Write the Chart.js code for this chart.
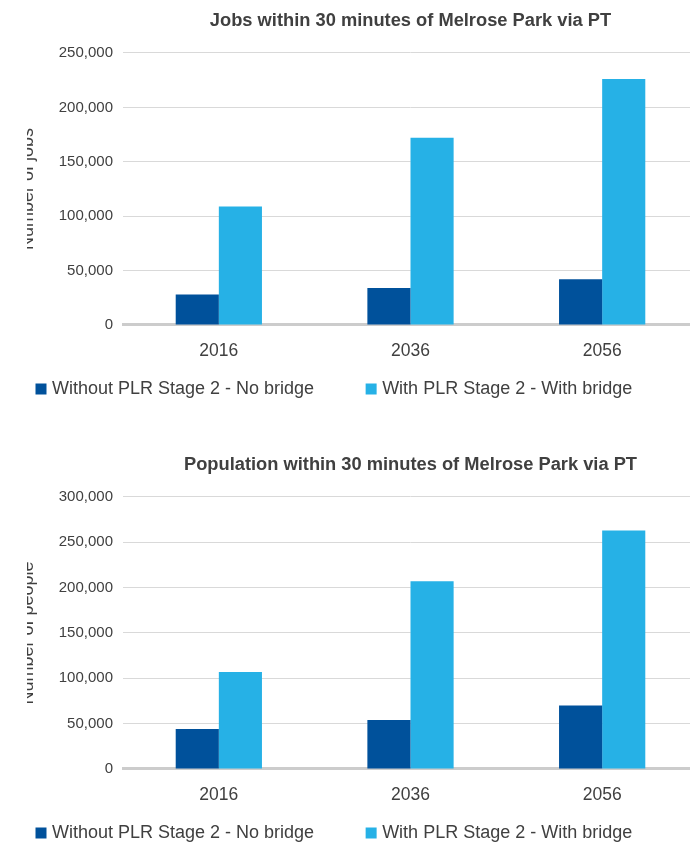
<!DOCTYPE html>
<html>
<head>
<meta charset="utf-8">
<script src="https://cdn.jsdelivr.net/npm/chart.js@4"></script>
<style>
  body { margin: 0; background: #fff; width: 690px; height: 842px; overflow: hidden; position: relative; }
  #clip { position: absolute; left: 27px; top: 0; width: 663px; height: 842px; overflow: hidden; }
  canvas { position: absolute; left: -43px; }
  #jobs { top: 0; }
  #pop { top: 444px; }
</style>
</head>
<body>
<div id="clip">
  <canvas id="jobs" width="714" height="408"></canvas>
  <canvas id="pop" width="714" height="408"></canvas>
</div>
<script>
const years = ['2016', '2036', '2056'];
const seriesNames = ['Without PLR Stage 2 - No bridge', 'With PLR Stage 2 - With bridge'];
const jobsNoBridge = [28000, 34000, 42000];
const jobsBridge = [109000, 172000, 226000];
const popNoBridge = [44000, 54000, 70000];
const popBridge = [107000, 207000, 263000];
const jobsTicks = { max: 250000, step: 50000 };
const popTicks = { max: 300000, step: 50000 };

const darkBlue = '#00519b';
const lightBlue = '#26b1e6';
const textGrey = '#404040';
const fam = "'Liberation Sans', Arial, sans-serif";

function makeChart(id, title, yTitle, noBridge, bridge, ticks) {
  const ctx = document.getElementById(id).getContext('2d');
  return new Chart(ctx, {
    type: 'bar',
    data: {
      labels: years,
      datasets: [
        { label: seriesNames[0], data: noBridge, backgroundColor: darkBlue, borderWidth: 0 },
        { label: seriesNames[1], data: bridge, backgroundColor: lightBlue, borderWidth: 0 }
      ]
    },
    options: {
      responsive: false,
      animation: false,
      categoryPercentage: 0.45,
      barPercentage: 1,
      layout: { padding: 0 },
      plugins: {
        tooltip: { enabled: false },
        title: {
          display: true,
          text: title,
          fullSize: false,
          color: textGrey,
          font: { family: fam, size: 18.3, weight: 'bold' },
          padding: { top: 9.6, bottom: 21.4 }
        },
        legend: {
          position: 'bottom',
          align: 'start',
          labels: {
            usePointStyle: true,
            pointStyle: 'rect',
            boxWidth: 4,
            boxHeight: 11,
            padding: 55,
            color: textGrey,
            font: { family: fam, size: 18 }
          }
        }
      },
      scales: {
        x: {
          grid: { display: false },
          border: { display: true, color: '#cccccc', width: 3 },
          // mirrored so the labels are not clipped to the zero-height axis box
          ticks: { mirror: true, color: textGrey, font: { family: fam, size: 17.5 }, padding: -36.5 },
          afterFit: function (scale) { scale.height = 0; }
        },
        y: {
          min: 0,
          max: ticks.max,
          grid: { color: '#d9d9d9', lineWidth: 1, drawTicks: false },
          border: { display: false },
          ticks: {
            stepSize: ticks.step,
            padding: 10,
            color: textGrey,
            font: { family: fam, size: 15 },
            callback: function (v) { return v.toLocaleString('en-US'); }
          },
          title: {
            display: true,
            text: yTitle,
            color: textGrey,
            font: { family: fam, size: 18 },
            padding: { top: 33, bottom: 0 }
          },
          afterFit: function (scale) { scale.width = 139; }
        }
      }
    }
  });
}

makeChart('jobs', 'Jobs within 30 minutes of Melrose Park via PT', 'Number of jobs', jobsNoBridge, jobsBridge, jobsTicks);
makeChart('pop', 'Population within 30 minutes of Melrose Park via PT', 'Number of people', popNoBridge, popBridge, popTicks);
</script>
</body>
</html>
